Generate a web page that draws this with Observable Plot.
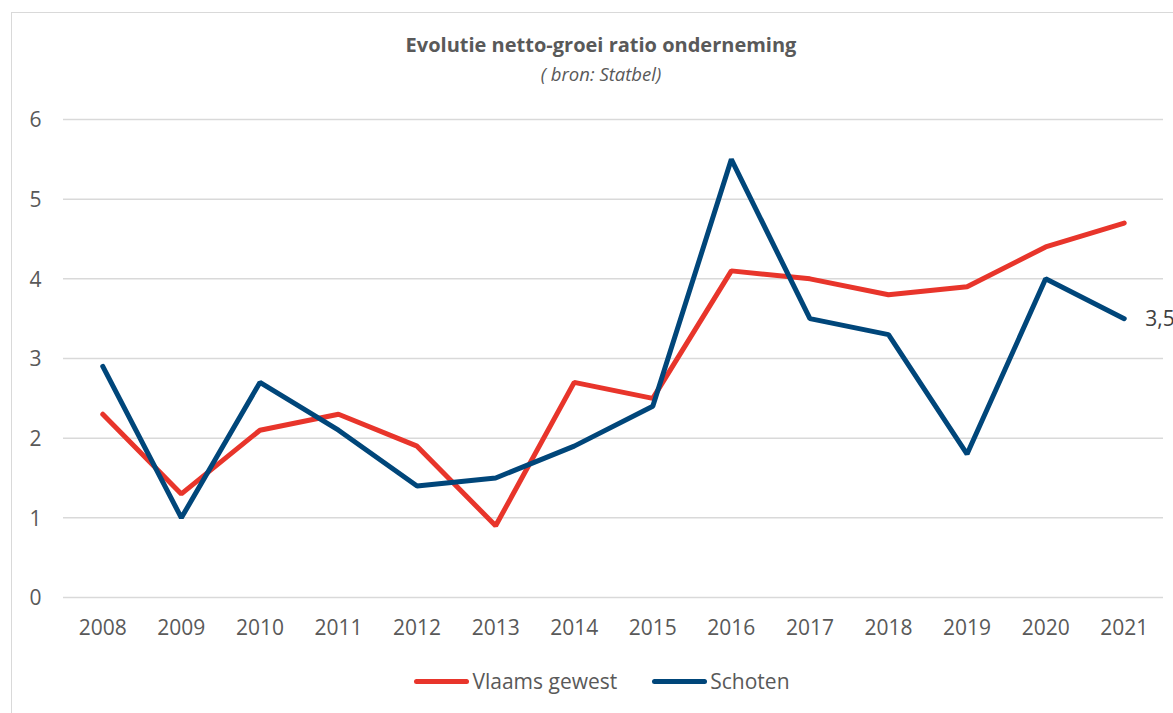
<!DOCTYPE html>
<html>
<head>
<meta charset="utf-8">
<script src="https://cdn.jsdelivr.net/npm/d3@7"></script>
<script src="https://cdn.jsdelivr.net/npm/@observablehq/plot@0.6"></script>
<style>
  html, body { margin: 0; padding: 0; background: #fff; width: 1173px; height: 713px; overflow: hidden; }
  body { position: relative; font-family: "Open Sans", sans-serif; }
  #frame { position: absolute; left: 11px; top: 12px; width: 1300px; height: 800px; border: 1.5px solid #d9d9d9; box-sizing: border-box; }
  #title { position: absolute; left: 0; width: 1202px; top: 31px; text-align: center; font-weight: bold; font-size: 20px; color: #595959; }
  #subtitle { position: absolute; left: 0; width: 1202px; top: 61px; text-align: center; font-style: italic; font-size: 18.5px; color: #595959; }
  #chart { position: absolute; left: 0; top: 90px; }
  #legend { position: absolute; left: 0; width: 1204px; top: 667px; display: flex; justify-content: center; gap: 35px; font-size: 21px; color: #595959; }
  .item { display: flex; align-items: center; }
  .sw { width: 55px; height: 5px; border-radius: 3px; margin-right: 3px; }
</style>
</head>
<body>
<div id="frame"></div>
<div id="title">Evolutie netto-groei ratio onderneming</div>
<div id="subtitle">( bron: Statbel)</div>
<div id="chart"></div>
<div id="legend"></div>
<script>
const years = ["2008","2009","2010","2011","2012","2013","2014","2015","2016","2017","2018","2019","2020","2021"];
const vlaamsGewest = [2.3, 1.3, 2.1, 2.3, 1.9, 0.9, 2.7, 2.5, 4.1, 4.0, 3.8, 3.9, 4.4, 4.7];
const schoten = [2.9, 1.0, 2.7, 2.1, 1.4, 1.5, 1.9, 2.4, 5.5, 3.5, 3.3, 1.8, 4.0, 3.5];
const seriesNames = ["Vlaams gewest", "Schoten"];
const seriesColors = ["#e8352b", "#00467a"];
const yTicks = [0, 1, 2, 3, 4, 5, 6];

const data = [];
years.forEach((y, i) => {
  data.push({year: y, value: vlaamsGewest[i], series: seriesNames[0]});
  data.push({year: y, value: schoten[i], series: seriesNames[1]});
});
const lastSchoten = [{year: years[years.length - 1], value: schoten[schoten.length - 1]}];

const plot = Plot.plot({
  width: 1173,
  height: 560,
  marginLeft: 63,
  marginRight: 10,
  marginTop: 29,
  marginBottom: 53,
  style: {fontFamily: "Open Sans, sans-serif", fontSize: "21px", color: "#595959", background: "transparent", overflow: "visible"},
  x: {type: "point", domain: years, padding: 0.5, round: false, label: null},
  y: {domain: [0, 6], label: null},
  color: {domain: seriesNames, range: seriesColors},
  marks: [
    Plot.ruleY(yTicks, {stroke: "#d9d9d9", strokeWidth: 1.5}),
    Plot.axisY({ticks: yTicks, tickFormat: d => String(d), tickSize: 0, tickPadding: 0, textAnchor: "middle", dx: -28, dy: 1, fontSize: 21, fill: "#595959", label: null}),
    Plot.axisX({tickSize: 0, tickPadding: 23, fontSize: 21, fill: "#595959", label: null}),
    Plot.line(data, {x: "year", y: "value", z: "series", stroke: "series", strokeWidth: 5, strokeLinecap: "round", strokeLinejoin: "miter"}),
    Plot.text(lastSchoten, {x: "year", y: "value", text: d => String(d.value).replace(".", ","), textAnchor: "start", dx: 21, dy: 1, fontSize: 21, fill: "#404040"})
  ]
});
document.getElementById("chart").appendChild(plot);

const legend = document.getElementById("legend");
seriesNames.forEach((n, i) => {
  const it = document.createElement("div");
  it.className = "item";
  const sw = document.createElement("div");
  sw.className = "sw";
  sw.style.background = seriesColors[i];
  const t = document.createElement("span");
  t.textContent = n;
  it.appendChild(sw); it.appendChild(t);
  legend.appendChild(it);
});
</script>
</body>
</html>
